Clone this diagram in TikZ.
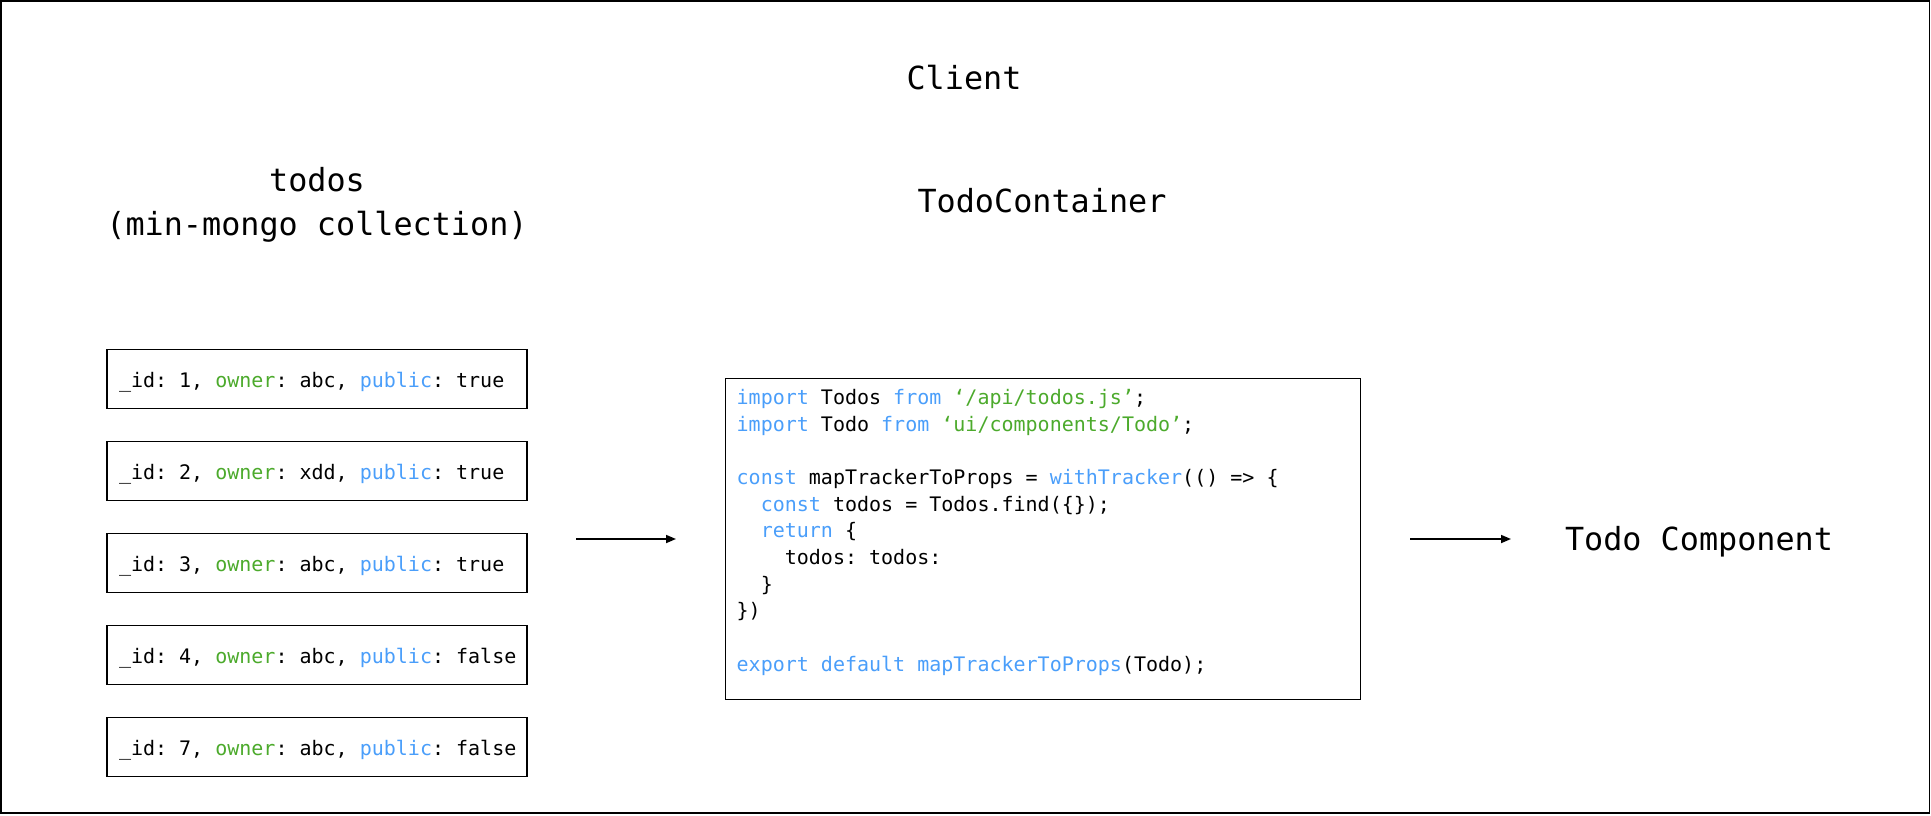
\documentclass[tikz,border=0pt]{standalone}
\usepackage{fontspec}
\setmainfont{DejaVu Sans Mono}
\usetikzlibrary{arrows.meta}
\frenchspacing
\definecolor{kwblue}{RGB}{74,158,250}
\definecolor{strgreen}{RGB}{76,170,44}
\newcommand{\kwc}[1]{\textcolor{kwblue}{#1}}
\newcommand{\strc}[1]{\textcolor{strgreen}{#1}}
\newcommand{\doctext}[1]{\makebox[396pt][l]{#1}}
\begin{document}
\begin{tikzpicture}[x=1pt,y=-1pt,
  title/.style={font=\fontsize{31.8}{38}\selectfont, inner sep=0pt, anchor=base},
  docbox/.style={draw, line width=1.3pt, minimum width=420pt, minimum height=59pt,
    inner xsep=12pt, inner ysep=0pt,
    text height=16.4pt, text depth=0pt, font=\fontsize{20}{24}\selectfont},
  codebox/.style={draw, line width=1.3pt, minimum width=634.6pt, minimum height=321pt, inner sep=0pt},
  codeline/.style={anchor=base west, inner sep=0pt, font=\fontsize{20}{24}\selectfont},
  flow/.style={line width=1.7pt, -{Triangle[length=10pt,width=8pt]}}]
\useasboundingbox (0,0) rectangle (1931,815);
\draw[line width=1.3pt] (1,1) rectangle (1929.5,813);

% titles
\node[title] (client) at (964,89.3) {Client};
\node[title] (todosA) at (317,191.7) {todos};
\node[title] (todosB) at (317,235) {(min-mongo collection)};
\node[title] (cont) at (1042,212.7) {TodoContainer};
\node[title] (comp) at (1699,550) {Todo Component};

% documents
\node[docbox] (d1) at (317,378.8) {\doctext{\_id: 1, \strc{owner}: abc, \kwc{public}: true}};
\node[docbox] (d2) at (317,470.9) {\doctext{\_id: 2, \strc{owner}: xdd, \kwc{public}: true}};
\node[docbox] (d3) at (317,563.0) {\doctext{\_id: 3, \strc{owner}: abc, \kwc{public}: true}};
\node[docbox] (d4) at (317,655.1) {\doctext{\_id: 4, \strc{owner}: abc, \kwc{public}: false}};
\node[docbox] (d5) at (317,747.2) {\doctext{\_id: 7, \strc{owner}: abc, \kwc{public}: false}};

% code box
\node[codebox] (code) at (1043,538.8) {};
\node[codeline] (c1) at (736.5,404.3) {\kwc{import} Todos \kwc{from} \strc{‘/api/todos.js’};};
\node[codeline] (c2) at (736.5,431.0) {\kwc{import} Todo \kwc{from} \strc{‘ui/components/Todo’};};
\node[codeline] (c4) at (736.5,484.3) {\kwc{const} mapTrackerToProps = \kwc{withTracker}(() => \{};
\node[codeline] (c5) at (736.5,511.0) {\phantom{cc}\kwc{const} todos = Todos.find(\{\});};
\node[codeline] (c6) at (736.5,537.7) {\phantom{cc}\kwc{return} \{};
\node[codeline] (c7) at (736.5,564.4) {\phantom{cccc}todos: todos:};
\node[codeline] (c8) at (736.5,591.1) {\phantom{cc}\}};
\node[codeline] (c9) at (736.5,617.8) {\})};
\node[codeline] (c11) at (736.5,671.2) {\kwc{export} \kwc{default} \kwc{mapTrackerToProps}(Todo);};

% arrows
\coordinate (a1s) at (576,539);
\coordinate (a1e) at (676,539);
\coordinate (a2s) at (1410,539);
\coordinate (a2e) at (1511,539);
\draw[flow] (a1s) -- (a1e);
\draw[flow] (a2s) -- (a2e);
\end{tikzpicture}
\end{document}
